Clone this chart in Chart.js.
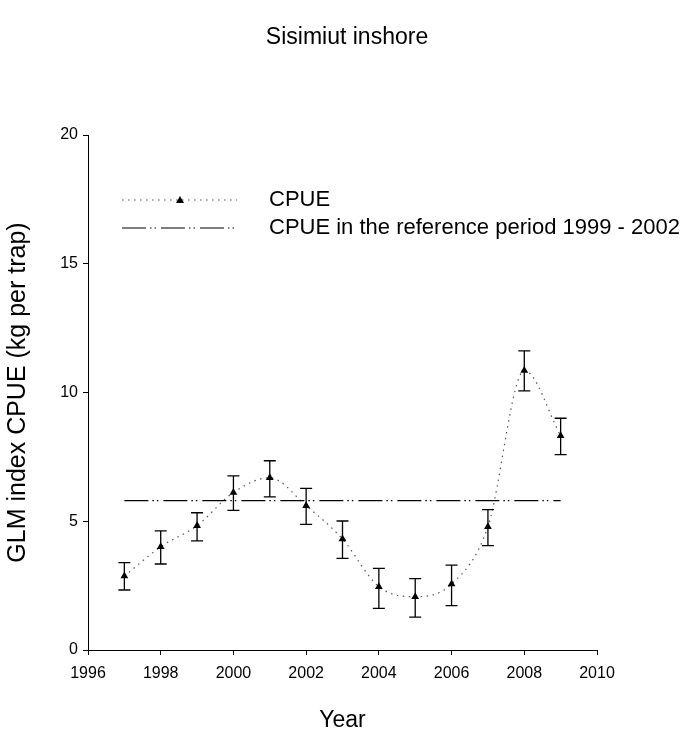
<!DOCTYPE html>
<html>
<head>
<meta charset="utf-8">
<title>Sisimiut inshore</title>
<script src="https://cdn.jsdelivr.net/npm/chart.js@4.4.1/dist/chart.umd.min.js"></script>
<style>
  html, body { margin: 0; padding: 0; background: #fff; }
  #wrap { width: 694px; height: 735px; }
</style>
</head>
<body>
<div id="wrap"><canvas id="cpueChart" width="694" height="735"></canvas></div>
<script>
const years = [1997, 1998, 1999, 2000, 2001, 2002, 2003, 2004, 2005, 2006, 2007, 2008, 2009];
const cpue = [2.87, 4.01, 4.83, 6.12, 6.69, 5.60, 4.31, 2.46, 2.07, 2.56, 4.79, 10.85, 8.32];
const cpueUpper = [3.39, 4.63, 5.33, 6.76, 7.35, 6.28, 5.01, 3.17, 2.77, 3.30, 5.45, 11.62, 9.00];
const cpueLower = [2.33, 3.34, 4.24, 5.42, 5.95, 4.88, 3.56, 1.62, 1.28, 1.72, 4.05, 10.06, 7.59];

const refYears = [1997, 2009];
const refLevel = 5.8;

const chartTitle = 'Sisimiut inshore';
const legendLabels = ['CPUE', 'CPUE in the reference period 1999 - 2002'];

const FONT = '"Liberation Sans", Arial, sans-serif';
const refDash = [24, 4, 1.5, 3, 1.5, 5];
const cpueDash = [1.5, 4.5];

// vertical error bars with flat caps
const errorBars = {
  id: 'errorBars',
  afterDatasetsDraw(chart) {
    const { ctx, scales: { x, y } } = chart;
    ctx.save();
    ctx.strokeStyle = '#000';
    ctx.lineWidth = 1.3;
    years.forEach((yr, i) => {
      const px = x.getPixelForValue(yr);
      const top = y.getPixelForValue(cpueUpper[i]);
      const bot = y.getPixelForValue(cpueLower[i]);
      ctx.beginPath();
      ctx.moveTo(px, top);
      ctx.lineTo(px, bot);
      ctx.moveTo(px - 6, top);
      ctx.lineTo(px + 6, top);
      ctx.moveTo(px - 6, bot);
      ctx.lineTo(px + 6, bot);
      ctx.stroke();
    });
    ctx.restore();
  },
};

// page title centred on the whole canvas, plus a legend inside the plot area
const headerAndLegend = {
  id: 'headerAndLegend',
  afterDraw(chart) {
    const { ctx } = chart;
    ctx.save();
    ctx.fillStyle = '#000';
    ctx.textBaseline = 'middle';
    ctx.textAlign = 'center';
    ctx.font = '23px ' + FONT;
    ctx.fillText(chartTitle, 347, 38);

    const x0 = 122, x1 = 237, textX = 269;
    const rows = [200, 228];

    ctx.strokeStyle = '#555';
    ctx.lineWidth = 1.2;
    ctx.setLineDash(cpueDash);
    ctx.beginPath();
    ctx.moveTo(x0, rows[0]);
    ctx.lineTo(x1, rows[0]);
    ctx.stroke();

    ctx.setLineDash([]);
    const tx = 180, ty = rows[0];
    ctx.beginPath();
    ctx.moveTo(tx, ty - 4);
    ctx.lineTo(tx + 4, ty + 3);
    ctx.lineTo(tx - 4, ty + 3);
    ctx.closePath();
    ctx.fill();

    ctx.strokeStyle = '#000';
    ctx.setLineDash(refDash);
    ctx.beginPath();
    ctx.moveTo(x0, rows[1]);
    ctx.lineTo(x1, rows[1]);
    ctx.stroke();
    ctx.setLineDash([]);

    ctx.font = '22px ' + FONT;
    ctx.textAlign = 'left';
    legendLabels.forEach((t, i) => ctx.fillText(t, textX, rows[i]));
    ctx.restore();
  },
};

const ctx = document.getElementById('cpueChart');
new Chart(ctx, {
  type: 'line',
  data: {
    datasets: [
      {
        label: legendLabels[1],
        data: refYears.map((yr) => ({ x: yr, y: refLevel })),
        borderColor: '#000',
        borderWidth: 1.2,
        borderDash: refDash,
        pointRadius: 0,
        fill: false,
      },
      {
        label: legendLabels[0],
        data: years.map((yr, i) => ({ x: yr, y: cpue[i] })),
        borderColor: '#555',
        borderWidth: 1.2,
        borderDash: cpueDash,
        cubicInterpolationMode: 'monotone',
        pointStyle: 'triangle',
        pointRadius: 4.5,
        pointBackgroundColor: '#000',
        pointBorderColor: '#000',
        pointBorderWidth: 0,
        fill: false,
      },
    ],
  },
  options: {
    responsive: false,
    animation: false,
    layout: { padding: { top: 135, right: 97, bottom: 0, left: 0 } },
    scales: {
      x: {
        type: 'linear',
        min: 1996,
        max: 2010,
        afterFit: (s) => { s.height = 85; },
        ticks: {
          stepSize: 2,
          padding: 9,
          color: '#000',
          font: { family: FONT, size: 16 },
          callback: (v) => String(v),
        },
        grid: { drawOnChartArea: false, drawTicks: true, tickLength: 5, color: '#000' },
        border: { display: true, color: '#000', width: 1 },
        title: {
          display: true,
          text: 'Year',
          color: '#000',
          font: { family: FONT, size: 23 },
          padding: { top: 0, bottom: 1 },
        },
      },
      y: {
        min: 0,
        max: 20,
        afterFit: (s) => { s.width = 88; },
        ticks: {
          stepSize: 5,
          padding: 5,
          color: '#000',
          font: { family: FONT, size: 16 },
        },
        grid: { drawOnChartArea: false, drawTicks: true, tickLength: 5, color: '#000' },
        border: { display: true, color: '#000', width: 1 },
        title: {
          display: true,
          text: 'GLM index CPUE (kg per trap)',
          color: '#000',
          font: { family: FONT, size: 25 },
          padding: { top: 3, bottom: 0 },
        },
      },
    },
    plugins: {
      legend: { display: false },
      tooltip: { enabled: false },
      title: { display: false },
    },
  },
  plugins: [errorBars, headerAndLegend],
});
</script>
</body>
</html>
